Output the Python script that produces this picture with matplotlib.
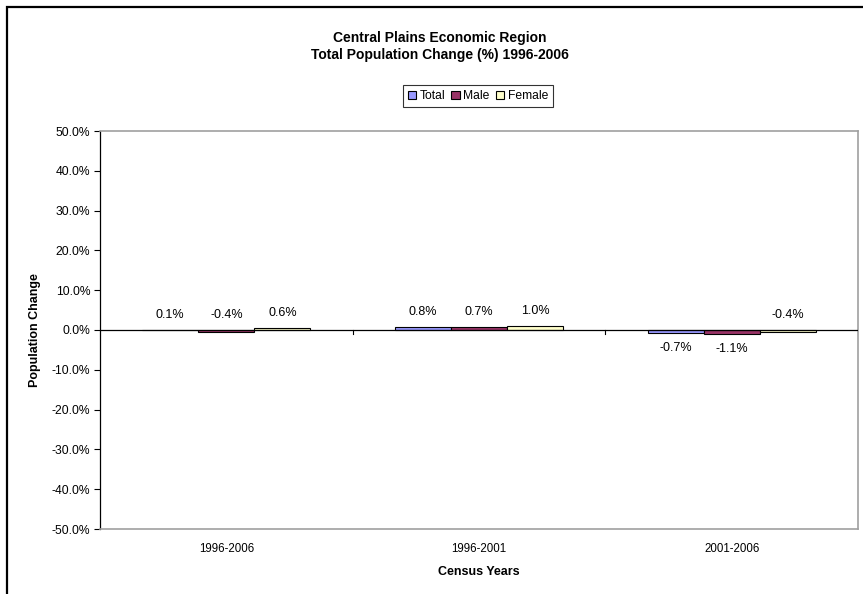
import matplotlib.pyplot as plt
import matplotlib.patches as mpatches
import numpy as np

plt.rcParams['font.family'] = ['Liberation Sans', 'DejaVu Sans']

# data
census_years = ['1996-2006', '1996-2001', '2001-2006']
total = [0.1, 0.8, -0.7]
male = [-0.4, 0.7, -1.1]
female = [0.6, 1.0, -0.4]
series_names = ['Total', 'Male', 'Female']
# where excel put each data label ('top' / 'bottom')
label_side = [['top', 'top', 'bottom'],
              ['top', 'top', 'bottom'],
              ['top', 'top', 'top']]

colors = ['#9999FF', '#993366', '#FFFFCC']

fig = plt.figure(figsize=(8.63, 5.94), dpi=100)
W, H = 863.0, 594.0
ax = fig.add_axes([100 / W, 1 - 529 / H, 758 / W, 398 / H])

# outer chart border (only left and top visible in the picture)
fig.patches.append(mpatches.Rectangle((7 / W, -0.1), 1.2, 1 - 7 / H + 0.1,
                                      transform=fig.transFigure, fill=False,
                                      edgecolor='black', linewidth=1.6))

x = np.arange(len(census_years))
bw = 0.222
allvals = [total, male, female]
for k, vals in enumerate(allvals):
    pos = x + (k - 1) * bw
    ax.bar(pos, vals, bw, color=colors[k], edgecolor='black', linewidth=0.8,
           label=series_names[k], zorder=3)
    for j, v in enumerate(vals):
        if label_side[k][j] == 'top':
            ax.annotate('%.1f%%' % v, (pos[j], max(v, 0)), xytext=(0, 6.5),
                        textcoords='offset points', ha='center', va='bottom',
                        fontsize=9)
        else:
            ax.annotate('%.1f%%' % v, (pos[j], min(v, 0)), xytext=(0, -6.5),
                        textcoords='offset points', ha='center', va='top',
                        fontsize=9)

ax.set_xlim(-0.5, 2.5)
ax.set_ylim(-50, 50)
ax.set_yticks(np.arange(-50, 51, 10))
ax.set_yticklabels(['%.1f%%' % t for t in np.arange(-50, 51, 10)], fontsize=8.7)
ax.tick_params(axis='y', direction='out', length=4, width=0.8, pad=3)

# x axis crosses at 0, labels stay at the bottom
ax.axhline(0, color='black', linewidth=0.9, zorder=4)
ax.set_xticks(x)
ax.set_xticklabels(census_years, fontsize=8.3)
ax.tick_params(axis='x', length=0, pad=10)
for b in [0.5, 1.5]:
    ax.plot([b, b], [0, -1.1], color='black', linewidth=0.8, zorder=4, clip_on=False)

for s in ['top', 'right', 'bottom']:
    ax.spines[s].set_color('#A0A0A0')
    ax.spines[s].set_linewidth(1.2)
ax.spines['left'].set_color('black')
ax.spines['left'].set_linewidth(0.9)

ax.set_xlabel('Census Years', fontsize=9, fontweight='bold', labelpad=8)
ax.set_ylabel('Population Change', fontsize=9, fontweight='bold', labelpad=8)

fig.text(440 / W, 1 - 38 / H, 'Central Plains Economic Region', ha='center',
         va='center', fontsize=10, fontweight='bold')
fig.text(440 / W, 1 - 55 / H, 'Total Population Change (%) 1996-2006', ha='center',
         va='center', fontsize=10, fontweight='bold')

leg = fig.legend(loc='center', bbox_to_anchor=(478 / W, 1 - 96 / H), ncol=3,
                 fontsize=8.7, frameon=True, fancybox=False, handlelength=0.7,
                 handleheight=0.7, handletextpad=0.3, columnspacing=0.5,
                 borderpad=0.4, edgecolor='black')
leg.get_frame().set_linewidth(0.8)

fig.savefig('out.png', dpi=100)
